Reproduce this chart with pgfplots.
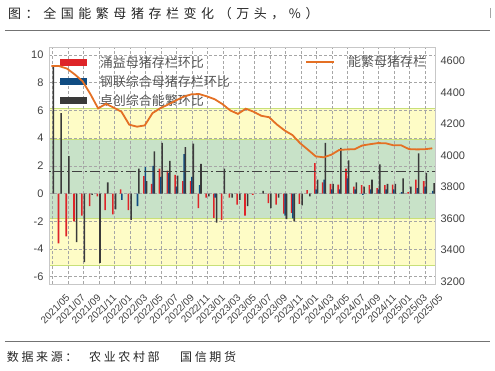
\documentclass[border=0pt]{standalone}
\usepackage{pgfplots}
\pgfplotsset{compat=1.18}
\usepackage{fontspec}
\setmainfont{Liberation Sans}
\newfontfamily\cjk{Noto Sans CJK SC}
\newfontfamily\cjkt[LetterSpace=35]{Noto Sans CJK SC}
\newfontfamily\cjks[LetterSpace=22]{Noto Sans CJK SC}
\definecolor{cRed}{RGB}{222,36,40}
\definecolor{cBlue}{RGB}{16,76,130}
\definecolor{cDark}{RGB}{58,58,58}
\definecolor{cOrange}{RGB}{228,112,36}
\definecolor{cYellow}{RGB}{254,252,198}
\definecolor{cGreen}{RGB}{200,226,200}
\definecolor{cEdge}{RGB}{200,224,120}
\definecolor{cTick}{RGB}{64,64,64}
\definecolor{cLeg}{RGB}{85,85,85}

\pgfplotstableread{
k v
1 -3.6
2 -3.1
3 -2.0
4 -1.6
5 -0.9
6 -0.2
7 -1.2
8 -1.5
9 0.3
10 -1.2
12 1.25
13 0.7
14 1.8
15 1.65
16 1.35
17 0.9
18 0.9
19 -1.05
20 -0.3
21 -1.75
22 -1.9
23 -0.3
24 -0.8
25 -1.6
26 -0.1
28 -0.7
29 -0.8
30 -1.45
31 -1.4
32 -0.75
33 0.25
34 2.2
35 0.8
36 0.7
37 0.65
38 1.8
39 0.5
40 0.6
41 0.6
42 0.4
43 0.6
44 0.65
46 0.1
47 1.0
48 0.9
}\yongyi

\pgfplotstableread{
k v
9 -0.45
11 -0.9
12 1.9
13 2.0
14 1.2
15 1.5
16 0.5
17 2.85
18 1.2
19 0.6
21 -0.3
30 -1.6
31 -1.8
34 0.3
35 1.0
36 0.3
37 0.3
38 1.1
39 0.3
40 -0.1
41 0.3
42 0.3
43 0.3
44 0.3
45 0.1
47 0.4
48 0.5
49 0.2
}\ganglian

\pgfplotstableread{
k v
0 9.2
1 5.8
2 2.7
3 -3.5
4 -4.95
5 -0.1
6 -5.0
7 0.8
8 -1.15
10 -1.9
11 1.8
12 0.9
13 3.05
14 3.65
15 2.35
16 1.3
17 3.35
18 3.6
19 2.15
20 -0.2
21 -2.1
22 1.8
23 -0.3
24 -0.45
25 -0.9
27 0.2
28 -1.05
29 -0.3
30 -1.85
31 -2.0
32 -0.85
33 -0.2
34 1.0
35 3.65
36 0.7
37 3.3
38 2.4
39 0.8
40 0.5
41 1.0
42 2.1
43 0.7
44 0.7
45 1.1
46 0.5
47 2.9
48 1.5
49 0.75
}\zhuochuang

\pgfplotstableread{
k v
0 4566
1 4566
2 4550
3 4513
4 4470
5 4389
6 4298
7 4327
8 4303
9 4277
10 4195
11 4182
12 4190
13 4268
14 4299
15 4322
16 4348
17 4372
18 4387
19 4389
20 4374
21 4356
22 4325
23 4285
24 4263
25 4296
26 4277
27 4251
28 4242
29 4196
30 4158
31 4129
32 4077
33 4036
34 3994
35 3988
36 4004
37 4034
38 4038
39 4039
40 4063
41 4071
42 4078
43 4077
44 4064
45 4064
46 4040
47 4038
48 4039
49 4045
}\sows

\pgfplotsset{
  base/.style={at={(0,0)}, anchor=south west, width=386pt, height=237pt,
    scale only axis, xmin=-0.32, xmax=49.35, clip=true},
}

\begin{document}
\begin{tikzpicture}[x=1pt,y=1pt]
\path[use as bounding box] (-49,-86) rectangle (446,284);

% header and footer
\node[anchor=west, inner sep=0, text=black!85] at (-41,270)
  {\cjkt\fontsize{13}{13}\selectfont 图：全国能繁母猪存栏变化（万头，\%）};
\draw[gray!70, line width=0.6pt] (441,276) -- (441,266);
\draw[black!55, line width=1pt] (-44,253.3) -- (441,253.3);
\draw[black!55, line width=1pt] (-44,-57) -- (441,-57);
\node[anchor=west, inner sep=0, text=black!85] at (-42.3,-72.7)
  {\cjks\fontsize{12}{12}\selectfont 数据来源：};
\node[anchor=west, inner sep=0, text=black!85] at (40,-72.7)
  {\cjks\fontsize{12}{12}\selectfont 农业农村部};
\node[anchor=west, inner sep=0, text=black!85] at (131,-72.7)
  {\cjks\fontsize{12}{12}\selectfont 国信期货};

% bands
\begin{axis}[base, ymin=3185, ymax=4687, hide axis]
\addplot[fill=cYellow, draw=cEdge, line width=0.8pt]
  coordinates {(-2,3300) (52,3300) (52,4300) (-2,4300)} -- cycle;
\addplot[fill=cGreen, draw=cEdge, line width=0.8pt]
  coordinates {(-2,3600) (52,3600) (52,4100) (-2,4100)} -- cycle;
\end{axis}

% bars, left axis
\begin{axis}[base, ymin=-6.53, ymax=10.58,
  axis line style={draw=black!22},
  ytick={-6,-4,-2,0,2,4,6,8,10},
  xtick={0.1,2.1,4.1,6.1,8.1,10.1,12.1,14.1,16.1,18.1,20.1,22.1,24.1,26.1,28.1,30.1,32.1,34.1,36.1,38.1,40.1,42.1,44.1,46.1,48.1},
  xticklabels={2021/05,2021/07,2021/09,2021/11,2022/01,2022/03,2022/05,2022/07,2022/09,2022/11,2023/01,2023/03,2023/05,2023/07,2023/09,2023/11,2024/01,2024/03,2024/05,2024/07,2024/09,2024/11,2025/01,2025/03,2025/05},
  grid=major,
  major grid style={draw=black!35, line width=0.5pt, dash pattern=on 3pt off 2pt},
  major tick length=0pt,
  /pgf/number format/assume math mode=true,
  tick label style={text=cTick},
  yticklabel style={font=\fontsize{11}{11}\selectfont, xshift=-2pt},
  xticklabel style={font=\fontsize{10}{10}\selectfont, xshift=13pt, yshift=-8pt, rotate=45, anchor=north east, inner sep=1pt},
  legend style={at={(0.02,0.985)}, anchor=north west, yshift=-1.5pt, draw=none, fill=none,
    font=\cjk\fontsize{13}{13}\selectfont, text=cLeg, row sep=2.5pt,
    /tikz/every odd column/.append style={column sep=11pt}},
  legend cell align=left,
]
\addplot[ybar, bar width=0.2, bar shift=-0.1, fill=cRed, draw=none,
  legend image code/.code={\fill[cRed] (0pt,-3.6pt) rectangle (27pt,3.6pt);}]
  table[x=k, y=v] {\yongyi};
\addlegendentry{涌益母猪存栏环比}
\addplot[ybar, bar width=0.2, bar shift=0.07, fill=cBlue, draw=none,
  legend image code/.code={\fill[cBlue] (0pt,-3.6pt) rectangle (27pt,3.6pt);}]
  table[x=k, y=v] {\ganglian};
\addlegendentry{钢联综合母猪存栏环比}
\addplot[ybar, bar width=0.2, bar shift=0.24, fill=cDark, draw=none,
  legend image code/.code={\fill[cDark] (0pt,-3.6pt) rectangle (27pt,3.6pt);}]
  table[x=k, y=v] {\zhuochuang};
\addlegendentry{卓创综合能繁环比}
\end{axis}

% line, right axis
\begin{axis}[base, ymin=3185, ymax=4687,
  axis y line*=right, axis x line=none,
  y axis line style={draw=none},
  ytick={3200,3400,3600,3800,4000,4200,4400,4600},
  major tick length=0pt,
  /pgf/number format/assume math mode=true,
  /pgf/number format/1000 sep={},
  yticklabel style={font=\fontsize{11}{11}\selectfont, text=cTick, xshift=2pt},
  legend style={at={(0.985,0.985)}, anchor=north east, draw=none, fill=none,
    font=\cjk\fontsize{13}{13}\selectfont, text=cLeg, yshift=-1pt, xshift=2pt,
    /tikz/every odd column/.append style={column sep=11pt}},
  legend image code/.code={\draw[#1] (0pt,0pt) -- (28pt,0pt);},
]
\addplot[black!75, line width=1.3pt, dash pattern=on 10pt off 3pt on 2pt off 3pt, forget plot]
  coordinates {(-2,3900) (52,3900)};
\addplot[cOrange, line width=1.8pt] table[x=k, y=v] {\sows};
\addlegendentry{能繁母猪存栏}
\end{axis}
\end{tikzpicture}
\end{document}
